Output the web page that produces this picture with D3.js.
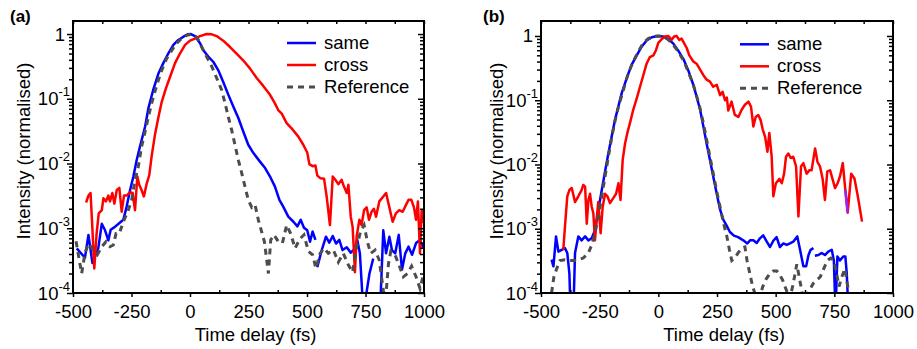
<!DOCTYPE html>
<html><head><meta charset="utf-8">
<script src="https://cdn.jsdelivr.net/npm/d3@7"></script>
<style>
html,body{margin:0;padding:0;background:#fff;}
svg{display:block;font-family:"Liberation Sans",Arial,Helvetica,sans-serif;}
</style></head><body>
<svg id="chart" width="917" height="349"></svg>
<script>
// ---- measured traces: [time delay (fs), normalised intensity]; null = no signal ----
const sameA = [[-484,4.9e-4],[-449,3.5e-4],[-434,7.9e-4],[-417,2.9e-4],[-392,4.9e-4],[-377,1.17e-3],[-363,9.3e-4],[-349,6.5e-4],[-339,9.5e-4],[-321,1.05e-3],[-299,1.23e-3],[-285,1.35e-3],[-271,2.14e-3],[-256,3.9e-3],[-242,6.3e-3],[-228,1.12e-2],[-214,1.82e-2],[-192,3.7e-2],[-178,7.1e-2],[-157,0.138],[-135,0.245],[-114,0.355],[-93,0.5],[-71,0.68],[-50,0.81],[-28,0.91],[-10,0.99],[4,1.0],[21,0.93],[43,0.72],[57,0.56],[78,0.45],[100,0.37],[121,0.275],[142,0.182],[164,0.115],[185,7.6e-2],[207,5.0e-2],[228,3.1e-2],[249,1.95e-2],[271,1.45e-2],[299,1.07e-2],[321,8.5e-3],[342,6.3e-3],[363,4.4e-3],[382,2.75e-3],[399,2.14e-3],[420,1.51e-3],[442,1.26e-3],[459,1.07e-3],[473,1.35e-3],[487,1.02e-3],[501,9.3e-4],[513,6.2e-4],[524,8.9e-4],[536,6.6e-4],[540,null],[544,2.5e-4],[563,4.6e-4],[581,7.4e-4],[595,6.0e-4],[610,7.6e-4],[624,5.8e-4],[638,6.6e-4],[652,4.6e-4],[670,5.1e-4],[687,4.2e-4],[701,4.7e-4],[715,6.6e-4],[726,4.1e-4],[741,5e-5],[752,9e-5],[767,2.0e-4],[783,3.4e-4],[798,null],[812,5e-5],[826,9.3e-4],[838,4.1e-4],[852,7.4e-4],[863,4.6e-4],[877,4.1e-4],[892,7.9e-4],[906,2.3e-4],[920,4.1e-4],[934,5.2e-4],[949,3.9e-4],[966,5.9e-4],[983,6.6e-4],[997,5.0e-4]];

const crossA = [[-444,2.5e-3],[-434,3.2e-3],[-425,3.5e-3],[-419,1.35e-3],[-409,2.4e-4],[-399,8.3e-4],[-390,1.7e-3],[-377,1.9e-3],[-370,2.9e-3],[-359,2.6e-3],[-349,3.2e-3],[-342,2.6e-3],[-332,3.5e-3],[-323,2.4e-3],[-313,3.9e-3],[-302,4.2e-3],[-292,1.8e-3],[-282,3.2e-3],[-271,3.2e-3],[-256,3.6e-3],[-245,3.5e-3],[-235,1.9e-3],[-225,6.3e-3],[-217,4.7e-3],[-207,3.9e-3],[-197,3.1e-3],[-185,4.9e-3],[-174,6.6e-3],[-164,1.29e-2],[-150,2.75e-2],[-135,5.2e-2],[-121,8.9e-2],[-103,0.145],[-85,0.219],[-64,0.355],[-43,0.5],[-21,0.68],[0,0.79],[21,0.85],[43,0.93],[71,1.0],[93,0.99],[114,0.93],[142,0.79],[171,0.63],[199,0.5],[228,0.39],[256,0.295],[285,0.209],[313,0.158],[342,0.115],[363,8.5e-2],[378,6.6e-2],[392,5.9e-2],[413,4.2e-2],[434,3.5e-2],[463,2.6e-2],[484,1.95e-2],[501,1.48e-2],[510,9.8e-3],[524,9.1e-3],[536,9.3e-3],[544,6.5e-3],[558,5.9e-3],[573,5.8e-3],[584,3.1e-3],[598,1.12e-3],[610,6.3e-3],[621,5.6e-3],[634,4.8e-3],[648,5.6e-3],[658,4.4e-3],[670,3.5e-3],[677,4.7e-3],[687,1.51e-3],[695,1.05e-3],[705,2.1e-4],[712,7.4e-4],[724,1.35e-3],[733,1.12e-3],[744,1.9e-3],[755,2.1e-3],[765,1.35e-3],[776,1.8e-3],[786,2.0e-3],[795,1.51e-3],[809,2.6e-3],[826,3.1e-3],[838,3.5e-3],[852,2.1e-3],[866,1.26e-3],[880,1.7e-3],[894,1.9e-3],[909,1.8e-3],[923,2.3e-3],[934,2.75e-3],[946,2.75e-3],[957,2.1e-3],[966,1.35e-3],[974,2.6e-3],[983,4.1e-4],[990,1.9e-3],[997,1.2e-3]];

const referenceA = [[-487,6.3e-4],[-473,3.2e-4],[-463,2.0e-4],[-449,4.1e-4],[-434,5.8e-4],[-413,4.6e-4],[-396,3.9e-4],[-377,5.2e-4],[-359,6.2e-4],[-342,5.2e-4],[-328,5.5e-4],[-316,8.3e-4],[-302,8.3e-4],[-285,1.26e-3],[-266,1.8e-3],[-249,2.75e-3],[-235,5.6e-3],[-221,8.9e-3],[-207,1.82e-2],[-192,3.1e-2],[-178,5.2e-2],[-164,8.5e-2],[-150,0.129],[-135,0.195],[-121,0.275],[-100,0.417],[-78,0.56],[-57,0.72],[-36,0.85],[-14,0.955],[7,1.0],[21,0.955],[36,0.81],[50,0.63],[64,0.5],[78,0.4],[93,0.316],[107,0.24],[121,0.182],[135,0.138],[150,8.5e-2],[164,5.2e-2],[178,3.3e-2],[192,1.95e-2],[207,1.12e-2],[221,7.1e-3],[235,4.4e-3],[249,2.75e-3],[264,2.1e-3],[278,2.3e-3],[292,1.35e-3],[306,8.9e-4],[318,6.2e-4],[328,3.2e-4],[335,2.0e-4],[345,6.6e-4],[359,7.9e-4],[378,6.2e-4],[395,5.9e-4],[413,1.12e-3],[430,8.3e-4],[449,4.9e-4],[470,6.9e-4],[487,7.9e-4],[506,4.4e-4],[524,3.9e-4],[538,2.4e-4],[556,4.1e-4],[573,4.9e-4],[591,4.1e-4],[613,4.6e-4],[634,3.0e-4],[655,4.1e-4],[677,2.7e-4],[695,2.1e-4],[712,5.2e-4],[729,8.9e-4],[744,1.12e-3],[758,6.2e-4],[772,4.1e-4],[791,4.6e-4],[809,3.2e-4],[826,1.1e-4],[836,8e-5],[848,2.8e-4],[858,4.4e-4],[876,3.9e-4],[895,2.6e-4],[912,1.78e-4],[929,2.0e-4],[947,2.6e-4],[966,1.78e-4],[983,1.17e-4],[997,1.9e-4]];

const sameB = [[-455,3.3e-4],[-447,2.6e-4],[-436,7.6e-4],[-426,4.4e-4],[-412,4.7e-4],[-398,5.0e-4],[-388,4.2e-4],[-379,2.0e-4],[-374,5e-5],[-362,5e-5],[-355,4.2e-4],[-341,7.6e-4],[-327,6.6e-4],[-312,7.6e-4],[-298,6.6e-4],[-284,7.1e-4],[-270,9.5e-4],[-256,1.95e-3],[-241,4.0e-3],[-227,7.8e-3],[-213,1.48e-2],[-199,2.7e-2],[-185,4.9e-2],[-170,8.1e-2],[-156,0.129],[-135,0.219],[-114,0.355],[-92,0.5],[-71,0.68],[-50,0.85],[-28,0.955],[-3,1.0],[21,0.98],[43,0.89],[64,0.76],[85,0.59],[107,0.437],[128,0.288],[149,0.174],[163,0.115],[178,7.1e-2],[192,3.9e-2],[206,2.1e-2],[220,1.17e-2],[234,6.5e-3],[249,3.5e-3],[263,2.0e-3],[277,1.38e-3],[291,1.12e-3],[305,8.9e-4],[322,7.8e-4],[340,7.4e-4],[362,6.6e-4],[379,5.9e-4],[391,6.6e-4],[405,6.6e-4],[419,6.0e-4],[433,7.1e-4],[447,7.9e-4],[462,6.3e-4],[476,5.2e-4],[490,6.5e-4],[504,7.4e-4],[518,5.2e-4],[533,5.9e-4],[547,5.6e-4],[561,5.9e-4],[575,6.3e-4],[592,7.6e-4],[604,4.7e-4],[618,2.6e-4],[630,2.6e-4],[640,3.9e-4],[649,4.7e-4],[661,5.0e-4],[664,null],[667,3.8e-4],[682,3.9e-4],[696,4.2e-4],[710,3.9e-4],[724,4.4e-4],[739,4.7e-4],[748,3.2e-4],[755,5e-5],[763,3.7e-4],[774,3.2e-4],[788,3.7e-4],[797,3.7e-4],[803,2.0e-4],[810,5e-5]];

const crossB = [[-405,4.7e-4],[-398,1.07e-3],[-388,3.2e-3],[-379,4.0e-3],[-369,4.3e-3],[-355,2.6e-3],[-341,3.2e-3],[-327,4.0e-3],[-320,4.8e-3],[-312,4.5e-3],[-305,1.2e-3],[-298,2.8e-3],[-291,3.5e-3],[-284,2.2e-3],[-277,1.74e-3],[-270,6.6e-4],[-263,1.38e-3],[-256,2.6e-3],[-246,8.5e-4],[-237,2.2e-3],[-227,3.5e-3],[-217,3.2e-3],[-206,2.5e-3],[-192,3.0e-3],[-180,3.5e-3],[-170,5.1e-3],[-161,2.8e-3],[-152,1.17e-2],[-142,2.1e-2],[-132,3.1e-2],[-121,4.4e-2],[-107,7.1e-2],[-92,0.107],[-78,0.162],[-64,0.245],[-50,0.37],[-36,0.47],[-21,0.5],[-10,0.6],[0,0.78],[14,0.89],[28,0.98],[43,1.0],[57,0.87],[67,0.98],[78,1.0],[89,0.87],[99,0.91],[109,0.78],[121,0.65],[132,0.5],[149,0.4],[163,0.37],[178,0.3],[192,0.245],[206,0.209],[220,0.195],[234,0.162],[249,0.174],[263,0.12],[274,0.135],[284,0.1],[292,0.11],[298,6.9e-2],[312,9.5e-2],[326,5.9e-2],[341,5.5e-2],[355,7.1e-2],[369,8.5e-2],[384,9.5e-2],[395,7.9e-2],[405,3.9e-2],[415,5.5e-2],[426,5.9e-2],[436,4.9e-2],[445,3.5e-2],[455,2.7e-2],[465,1.58e-2],[473,3.1e-2],[483,1.32e-2],[490,3.2e-3],[501,5.1e-3],[516,6.0e-3],[526,5.1e-3],[536,7.2e-3],[544,1.32e-2],[554,1.48e-2],[564,1.26e-2],[575,1.32e-2],[587,9.3e-3],[597,1.55e-3],[608,9.3e-3],[618,1.05e-2],[632,7.2e-3],[643,8.1e-3],[653,8.1e-3],[668,1.78e-2],[678,1.1e-2],[689,9.3e-3],[700,6.0e-3],[710,2.8e-3],[720,7.8e-3],[732,8.1e-3],[743,5.8e-3],[753,4.3e-3],[764,5.1e-3],[774,6.5e-3],[786,1.05e-2],[797,4.0e-3],[807,1.78e-3],[822,7.2e-3],[836,6.0e-3],[850,3.2e-3],[868,1.29e-3]];

const referenceB = [[-455,1.0e-4],[-445,1.78e-4],[-433,2.4e-4],[-419,3.2e-4],[-398,3.3e-4],[-376,3.2e-4],[-348,3.2e-4],[-320,3.5e-4],[-298,4.2e-4],[-284,5.6e-4],[-270,8.5e-4],[-256,1.55e-3],[-241,3.2e-3],[-227,6.5e-3],[-213,1.32e-2],[-199,2.6e-2],[-185,4.7e-2],[-170,7.9e-2],[-149,0.145],[-128,0.263],[-107,0.4],[-85,0.575],[-64,0.78],[-43,0.91],[-21,0.98],[0,1.0],[21,0.98],[43,0.87],[64,0.72],[85,0.575],[107,0.417],[128,0.275],[149,0.174],[163,0.117],[178,7.4e-2],[192,4.4e-2],[206,2.4e-2],[220,1.32e-2],[234,7.2e-3],[249,3.8e-3],[263,2.2e-3],[277,1.26e-3],[291,7.9e-4],[303,4.7e-4],[313,3.2e-4],[325,3.5e-4],[340,4.2e-4],[355,5.0e-4],[369,5.2e-4],[378,3.2e-4],[390,2.0e-4],[402,1.26e-4],[415,9e-5],[430,8e-5],[445,1.26e-4],[460,1.66e-4],[475,2.0e-4],[490,2.2e-4],[505,2.2e-4],[518,1.9e-4],[530,1.58e-4],[545,1.12e-4],[560,8e-5],[575,1.41e-4],[590,2.8e-4],[603,1.58e-4],[615,9e-5],[630,8e-5],[645,1.12e-4],[660,1.41e-4],[675,1.58e-4],[690,1.78e-4],[705,2.4e-4],[720,3.2e-4],[735,3.5e-4],[748,3.2e-4],[760,2.0e-4],[770,1.26e-4],[782,1.78e-4],[795,2.4e-4],[805,1.41e-4],[812,1.0e-4]];

// stretch of the (b) cross trace that is drawn in violet
const crossBViolet = [797, 807];

const panelLabels = ["(a)", "(b)"];
const seriesNames = ["same", "cross", "Reference"];
const xTicks = [-500, -250, 0, 250, 500, 750, 1000];
const xMinorTicks = [-375, -125, 125, 375, 625, 875];
const yDecades = [1e-4, 1e-3, 1e-2, 1e-1, 1];
const yExponents = ["-4", "-3", "-2", "-1", ""];
const xTitle = "Time delay (fs)";
const yTitle = "Intensity (normalised)";

// ---- layout and styling ----
const COLORS = { same: "#0000ff", cross: "#ff0000", ref: "#4d4d4d", violet: "#a020f0" };
const FONT = 18.5;
const panels = [
  { left: 73, right: 424, top: 21, bottom: 293, yMax: 1.59, labelX: 10, titleX: 30, legX: 287, legY: 43,
    same: sameA, cross: crossA, ref: referenceA, violet: null },
  { left: 541, right: 893, top: 21, bottom: 293, yMax: 1.71, labelX: 483, titleX: 503, legX: 740, legY: 44.3,
    same: sameB, cross: crossB, ref: referenceB, violet: crossBViolet }
];

const svg = d3.select("#chart");

panels.forEach((p, i) => {
  const g = svg.append("g");
  const x = d3.scaleLinear().domain([-500, 1000]).range([p.left, p.right]);
  const y = d3.scaleLog().domain([1e-4, p.yMax]).range([p.bottom, p.top]);

  const clipId = "clip" + i;
  svg.append("defs").append("clipPath").attr("id", clipId)
    .append("rect").attr("x", p.left).attr("y", p.top)
    .attr("width", p.right - p.left).attr("height", p.bottom - p.top);

  const line = d3.line()
    .defined(d => d[1] != null)
    .x(d => x(d[0])).y(d => y(d[1]));

  const plot = g.append("g").attr("clip-path", `url(#${clipId})`);
  plot.append("path").datum(p.same).attr("d", line)
    .attr("fill", "none").attr("stroke", COLORS.same).attr("stroke-width", 2.5)
    .attr("stroke-linejoin", "round");
  plot.append("path").datum(p.cross).attr("d", line)
    .attr("fill", "none").attr("stroke", COLORS.cross).attr("stroke-width", 2.5)
    .attr("stroke-linejoin", "round");
  if (p.violet) {
    const seg = p.cross.filter(d => d[0] >= p.violet[0] && d[0] <= p.violet[1]);
    plot.append("path").datum(seg).attr("d", line)
      .attr("fill", "none").attr("stroke", COLORS.violet).attr("stroke-width", 2.5);
  }
  plot.append("path").datum(p.ref).attr("d", line)
    .attr("fill", "none").attr("stroke", COLORS.ref).attr("stroke-width", 3)
    .attr("stroke-dasharray", "6,5");

  // ticks
  const yMinor = y.ticks().filter(v => Math.abs(Math.log10(v) - Math.round(Math.log10(v))) > 1e-6);
  const noDomain = s => s.select(".domain").remove();
  const tickStyle = s => s.selectAll(".tick line").attr("stroke", "#000").attr("stroke-width", 1.5);

  // left axis: ticks outward
  g.append("g").attr("transform", `translate(${p.left},0)`)
    .call(d3.axisLeft(y).tickValues(yDecades).tickSize(6).tickFormat(""))
    .call(noDomain).call(tickStyle);
  g.append("g").attr("transform", `translate(${p.left},0)`)
    .call(d3.axisLeft(y).tickValues(yMinor).tickSize(4).tickFormat(""))
    .call(noDomain).call(tickStyle);
  // right axis: ticks inward
  g.append("g").attr("transform", `translate(${p.right},0)`)
    .call(d3.axisLeft(y).tickValues(yDecades).tickSize(6).tickFormat(""))
    .call(noDomain).call(tickStyle);
  g.append("g").attr("transform", `translate(${p.right},0)`)
    .call(d3.axisLeft(y).tickValues(yMinor).tickSize(4).tickFormat(""))
    .call(noDomain).call(tickStyle);
  // bottom axis: majors outward with labels, minors inward
  const bottomAxis = g.append("g").attr("transform", `translate(0,${p.bottom})`)
    .call(d3.axisBottom(x).tickValues(xTicks).tickSize(4).tickPadding(8).tickFormat(d => String(d)))
    .call(noDomain).call(tickStyle);
  bottomAxis.selectAll(".tick text")
    .attr("font-size", FONT).attr("font-family", "Liberation Sans, Arial, sans-serif").attr("fill", "#000");
  g.append("g").attr("transform", `translate(0,${p.bottom})`)
    .call(d3.axisTop(x).tickValues(xMinorTicks).tickSize(3).tickFormat(""))
    .call(noDomain).call(tickStyle);
  // top axis: all ticks inward
  g.append("g").attr("transform", `translate(0,${p.top})`)
    .call(d3.axisBottom(x).tickValues(xTicks.concat(xMinorTicks)).tickSize(3).tickFormat(""))
    .call(noDomain).call(tickStyle);

  // y tick labels as powers of ten
  yDecades.forEach((v, k) => {
    const t = g.append("text")
      .attr("y", y(v) + 6.5)
      .attr("text-anchor", "end")
      .attr("font-size", FONT).attr("fill", "#000");
    if (yExponents[k] === "") {
      t.attr("x", p.left - 8).text("1");
    } else {
      t.attr("x", p.left - 3);
      t.append("tspan").text("10");
      t.append("tspan").attr("dy", -9).attr("font-size", 13).text(yExponents[k]);
    }
  });

  // frame
  g.append("rect").attr("x", p.left).attr("y", p.top)
    .attr("width", p.right - p.left).attr("height", p.bottom - p.top)
    .attr("fill", "none").attr("stroke", "#000").attr("stroke-width", 2);

  // titles
  g.append("text").attr("x", (p.left + p.right) / 2 + 7).attr("y", 341)
    .attr("text-anchor", "middle").attr("font-size", FONT).attr("fill", "#000").text(xTitle);
  g.append("text").attr("transform", `translate(${p.titleX},151) rotate(-90)`)
    .attr("text-anchor", "middle").attr("font-size", FONT).attr("fill", "#000").text(yTitle);
  g.append("text").attr("x", p.labelX).attr("y", 22)
    .attr("font-size", 17).attr("font-weight", "bold").attr("fill", "#000").text(panelLabels[i]);

  // legend
  const legStyles = [
    { color: COLORS.same, width: 2.5, dash: null },
    { color: COLORS.cross, width: 2.5, dash: null },
    { color: COLORS.ref, width: 3, dash: "6,5" }
  ];
  seriesNames.forEach((name, k) => {
    const ly = p.legY + k * 22;
    const s = legStyles[k];
    const l = g.append("line").attr("x1", p.legX).attr("x2", p.legX + 29)
      .attr("y1", ly).attr("y2", ly)
      .attr("stroke", s.color).attr("stroke-width", s.width);
    if (s.dash) l.attr("stroke-dasharray", s.dash);
    g.append("text").attr("x", p.legX + 37).attr("y", ly + 6)
      .attr("font-size", FONT).attr("fill", "#000").text(name);
  });
});
</script>
</body></html>
